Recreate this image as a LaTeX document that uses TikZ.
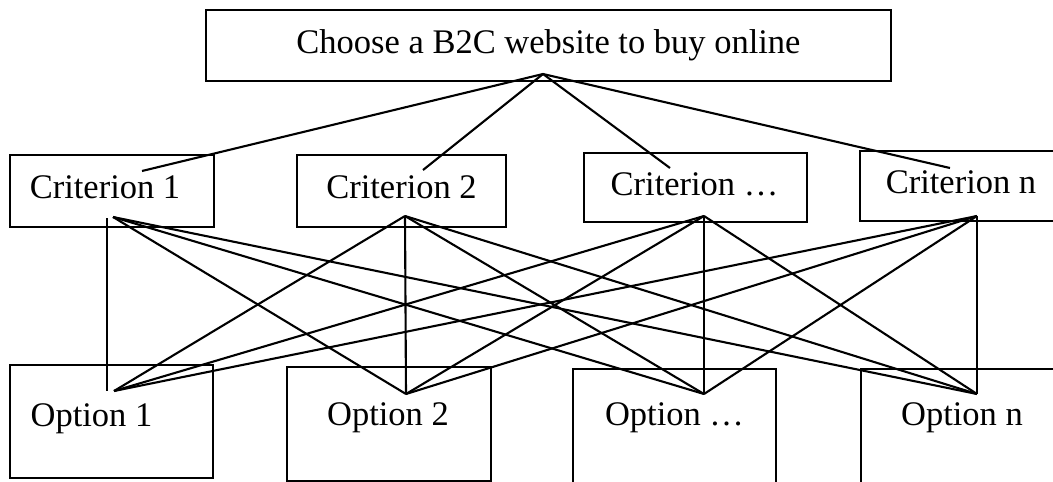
\documentclass[tikz,border=0pt]{standalone}
\usepackage{fontspec}
\setmainfont{Liberation Serif}
\begin{document}
\begin{tikzpicture}[x=1pt,y=-1pt,
  box/.style={draw,line width=2.4pt,inner sep=0pt},
  lbl/.style={font=\fontsize{34.5}{41}\selectfont,inner sep=0pt,anchor=base},
  link/.style={line width=2.1pt}]
\useasboundingbox (0,0) rectangle (1053,482);
\clip (0,0) rectangle (1053,482);
\fill[white] (0,0) rectangle (1053,482);

% boxes
\draw[box] (206,10) rectangle (891,81);
\draw[box] (10,155) rectangle (214,227);
\draw[box] (297,155) rectangle (506,227);
\draw[box] (584,153) rectangle (807,222);
\draw[box] (860,151) rectangle (1070,221);
\draw[box] (10,365) rectangle (213,478);
\draw[box] (287,367) rectangle (491,481);
\draw[box] (573,369) rectangle (776,500);
\draw[box] (861,369) rectangle (1070,500);

% texts
\node[lbl] (goal) at (548.5,53) {Choose a B2C website to buy online};
\node[lbl] (t1) at (105,198) {Criterion 1};
\node[lbl] (t2) at (401.5,198) {Criterion 2};
\node[lbl] (t3) at (694.5,195) {Criterion …};
\node[lbl] (t4) at (961,193) {Criterion n};
\node[lbl] (o1) at (91.5,426) {Option 1};
\node[lbl] (o2) at (388,425) {Option 2};
\node[lbl] (o3) at (674.5,425) {Option …};
\node[lbl] (o4) at (962,425) {Option n};

% connector points
\coordinate (apex) at (543,74);
\coordinate (c1top) at (142,171);
\coordinate (c2top) at (423,170);
\coordinate (c3top) at (670,168);
\coordinate (c4top) at (950,168);

\coordinate (c1v) at (107,218);
\coordinate (c1) at (113,217);
\coordinate (c2) at (405,216);
\coordinate (c3) at (704,216);
\coordinate (c4) at (977,216);

\coordinate (p1v) at (107,391);
\coordinate (p1) at (114,391);
\coordinate (p2) at (406,394);
\coordinate (p3) at (704,394);
\coordinate (p4) at (977,394);

% top connectors
\foreach \c in {c1top,c2top,c3top,c4top}
  \draw[link] (apex) -- (\c);

% criterion to option connectors
\draw[link] (c1v) -- (p1v);
\foreach \p in {p2,p3,p4} \draw[link] (c1) -- (\p);
\foreach \p in {p1,p2,p3,p4} \draw[link] (c2) -- (\p);
\foreach \p in {p1,p2,p3,p4} \draw[link] (c3) -- (\p);
\foreach \p in {p1,p2,p3,p4} \draw[link] (c4) -- (\p);
\end{tikzpicture}
\end{document}
